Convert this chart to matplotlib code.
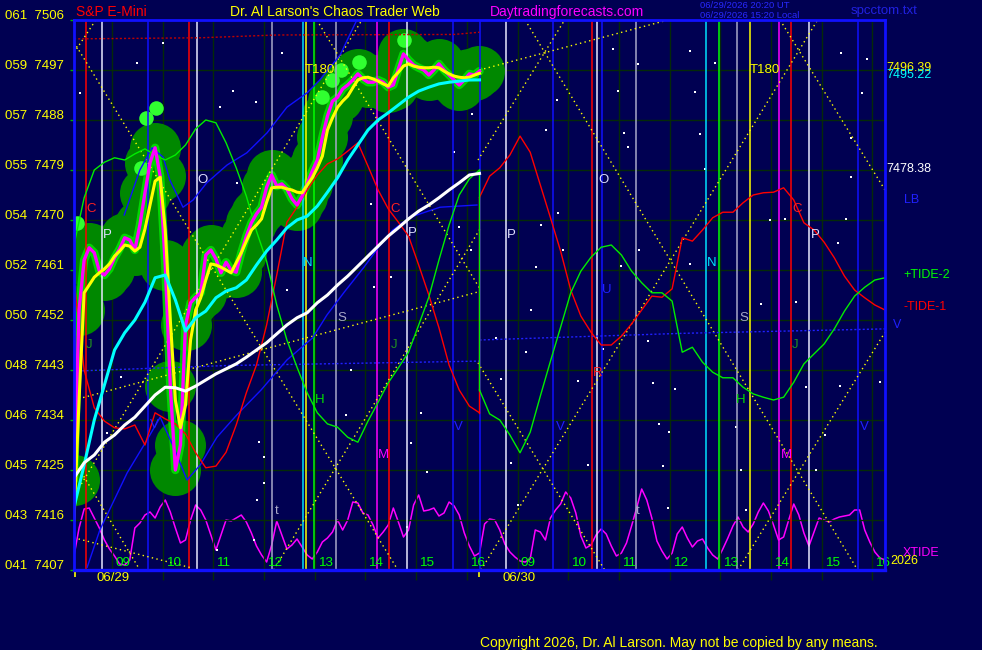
import numpy as np
import matplotlib
matplotlib.use("Agg")
import matplotlib.pyplot as plt

plt.rcParams['font.family'] = ['Liberation Sans', 'DejaVu Sans']

NAVY = '#000052'
GRID = '#052a08'

# x axis: hours since 08:15 on 06/29; each session shown is 8 hours (08:15-16:15)
day_start = [0.0, 8.0]
day_names = ['06/29', '06/30']
hour_grid = [0.75 + i for i in range(8)] + [8.75 + i for i in range(8)]
hour_names = ['09', '10', '11', '12', '13', '14', '15', '16'] * 2

levels = [7407, 7416, 7425, 7434, 7443, 7452, 7461, 7470, 7479, 7488, 7497, 7506]
level_codes = ['041', '043', '045', '046', '048', '050', '052', '054', '055', '057', '059', '061']

# price (magenta) and its fast average (yellow), every 0.1 h on 06/29
t_fast = np.arange(81) * 0.1
price = [7423.2, 7453.8, 7462.8, 7465.0, 7464.1, 7460.8, 7460.1, 7461.2, 7463.2, 7464.8,
         7466.8, 7466.4, 7464.6, 7469.1, 7474.9, 7480.3, 7483.0, 7477.9, 7461.9, 7440.1,
         7425.0, 7429.5, 7451.1, 7455.1, 7456.1, 7456.9, 7463.7, 7464.6, 7463.0, 7460.5,
         7462.4, 7461.0, 7460.6, 7464.1, 7467.1, 7469.5, 7471.1, 7472.3, 7475.9, 7478.1,
         7476.1, 7476.5, 7475.6, 7473.8, 7472.7, 7474.3, 7476.5, 7478.8, 7480.8, 7484.9,
         7488.7, 7491.4, 7492.1, 7493.6, 7494.3, 7495.2, 7496.3, 7495.4, 7494.8, 7494.8,
         7495.2, 7494.8, 7493.9, 7494.3, 7497.2, 7499.9, 7498.8, 7497.9, 7497.4, 7497.0,
         7496.1, 7497.0, 7498.1, 7497.0, 7496.1, 7495.2, 7494.3, 7495.2, 7496.3, 7496.1,
         7496.8]
fast_avg = [7416.0, 7437.6, 7456.9, 7458.3, 7459.7, 7460.5, 7461.2, 7462.1, 7463.5, 7464.4,
            7465.5, 7465.3, 7464.4, 7465.1, 7468.4, 7472.7, 7477.0, 7477.7, 7468.2, 7452.0,
            7437.6, 7432.6, 7436.7, 7448.4, 7453.8, 7456.0, 7459.2, 7462.1, 7461.9, 7461.5,
            7461.0, 7460.5, 7462.3, 7464.1, 7466.2, 7468.2, 7469.1, 7470.2, 7473.2, 7475.8,
            7475.9, 7475.9, 7475.6, 7475.4, 7475.0, 7474.9, 7476.3, 7477.6, 7479.4, 7481.5,
            7486.2, 7488.4, 7490.3, 7491.4, 7492.3, 7493.8, 7495.2, 7495.6, 7495.7, 7495.4,
            7495.0, 7494.5, 7494.1, 7495.6, 7496.6, 7497.7, 7498.1, 7497.7, 7497.5, 7497.4,
            7497.4, 7497.5, 7497.4, 7496.8, 7496.3, 7495.9, 7495.7, 7495.6, 7495.7, 7496.1,
            7496.39]
# bar highs that stand out as bright dots
high_t = [0.06, 1.32, 1.42, 1.62, 4.89, 5.09, 5.27, 5.62, 6.51]
high_p = [7469.5, 7479.4, 7488.4, 7490.2, 7492.1, 7495.2, 7497.0, 7498.4, 7502.4]

# slower averages, every 0.2 h on 06/29
t_slow = np.arange(41) * 0.2
mid_avg = [7418.3, 7425.9, 7434.0, 7440.3, 7446.6, 7449.7, 7452.0, 7455.2, 7459.6, 7460.1,
           7455.6, 7450.0, 7452.4, 7453.6, 7456.0, 7457.2, 7457.8, 7459.2, 7461.9, 7464.4,
           7466.4, 7468.6, 7470.0, 7470.7, 7472.5, 7475.0, 7477.6, 7480.8, 7483.5, 7486.2,
           7488.0, 7489.3, 7490.7, 7492.1, 7493.2, 7493.9, 7494.5, 7494.8, 7495.0, 7495.2,
           7495.22]
slow_avg = [7423.6, 7426.3, 7427.7, 7430.0, 7431.3, 7433.1, 7434.5, 7436.5, 7438.5, 7439.9,
            7439.8, 7439.2, 7440.1, 7441.2, 7442.3, 7443.2, 7444.1, 7445.3, 7446.6, 7447.9,
            7449.5, 7451.1, 7452.4, 7453.3, 7455.1, 7456.5, 7458.3, 7459.9, 7461.7, 7463.5,
            7465.3, 7467.1, 7468.6, 7470.2, 7471.6, 7472.7, 7474.0, 7475.4, 7476.7, 7478.1,
            7478.38]

# tides, every 0.2 h, one list per session
tide1_d1 = [7459.2, 7443.0, 7436.2, 7433.8, 7432.6, 7432.4, 7433.1, 7429.5, 7435.3, 7434.2,
            7433.3, 7431.5, 7428.1, 7425.4, 7425.7, 7428.2, 7433.1, 7438.9, 7443.9, 7451.1,
            7460.1, 7469.6, 7472.3, 7475.4, 7478.1, 7480.1, 7481.0, 7482.4, 7483.9, 7479.7,
            7475.4, 7472.0, 7469.6, 7467.1, 7461.9, 7456.5, 7450.6, 7443.9, 7439.4, 7436.5,
            7435.3]
tide1_d2 = [7474.1, 7477.9, 7479.4, 7481.7, 7485.1, 7482.2, 7476.3, 7470.4, 7464.4, 7457.4,
            7452.7, 7449.8, 7447.5, 7447.5, 7449.1, 7451.3, 7453.8, 7456.3, 7456.1, 7457.6,
            7466.8, 7466.2, 7468.2, 7470.4, 7471.4, 7471.4, 7473.1, 7474.5, 7474.9, 7475.0,
            7475.8, 7473.6, 7469.5, 7468.2, 7466.0, 7463.2, 7459.9, 7457.4, 7456.0, 7454.7,
            7453.8]
tide2_d1 = [7465.5, 7474.0, 7479.0, 7480.4, 7481.2, 7480.8, 7481.9, 7482.8, 7481.7, 7480.8,
            7481.7, 7483.5, 7486.4, 7488.0, 7487.5, 7483.9, 7479.4, 7474.3, 7468.0, 7462.6,
            7454.7, 7448.4, 7443.5, 7438.9, 7435.3, 7433.3, 7432.7, 7430.9, 7430.0, 7433.8,
            7437.2, 7440.7, 7443.4, 7446.2, 7451.1, 7456.1, 7462.8, 7469.1, 7474.5, 7477.4,
            7479.0]
tide2_d2 = [7439.4, 7435.1, 7434.0, 7431.3, 7428.1, 7431.8, 7438.3, 7444.6, 7450.7, 7456.9,
            7460.8, 7463.3, 7465.1, 7465.5, 7463.7, 7460.8, 7458.7, 7456.9, 7456.9, 7455.4,
            7446.2, 7447.1, 7444.4, 7442.6, 7441.6, 7441.6, 7439.9, 7438.7, 7438.1, 7437.6,
            7438.1, 7440.8, 7444.1, 7445.9, 7447.7, 7450.4, 7453.6, 7456.3, 7457.9, 7459.2,
            7459.6]

# blue lines on 06/29
lb1_t = [0.99, 1.30, 1.54, 1.76, 1.89, 2.15, 2.35, 2.62, 3.02, 3.41, 3.81, 4.20, 4.60, 4.85, 5.25, 5.58]
lb1_p = [7470.9, 7479.0, 7483.0, 7481.3, 7477.2, 7472.3, 7473.6, 7476.7, 7479.9, 7482.1,
         7485.7, 7490.3, 7492.9, 7495.2, 7499.7, 7506.0]
lb2_t = [0.26, 0.51, 1.05, 1.44, 1.70, 1.99, 2.23, 2.49, 2.82, 3.21, 3.69, 4.20, 4.71, 4.99,
         5.33, 5.72, 6.04, 6.29, 6.63, 7.22, 7.95]
lb2_p = [7407.5, 7414.2, 7424.5, 7430.4, 7434.5, 7428.6, 7423.2, 7425.9, 7430.9, 7434.9,
         7439.4, 7444.8, 7448.8, 7452.9, 7457.0, 7461.5, 7465.5, 7468.2, 7470.5, 7472.3, 7472.7]
v_level_t = [[0.0, 3.0, 8.0], [8.0, 12.0, 16.0]]
v_level_p = [[7442.8, 7443.8, 7444.6], [7448.4, 7449.6, 7450.4]]
top_level_t = [0.0, 2.5, 4.0, 7.5, 8.0]
top_level_p = [7502.6, 7502.8, 7503.3, 7503.4, 7503.8]

# XTIDE oscillator, every 0.1 h over both sessions (own scale 0-550)
t_xt = np.arange(161) * 0.1
xtide = [14, 42, 61, 62, 52, 42, 30, 21, 14, 6, 5, 10, 42, 47, 55, 58, 52, 63, 70, 58,
         42, 27, 30, 50, 65, 60, 50, 35, 20, 35, 50, 49, 52, 55, 48, 37, 24, 15, 8, 25,
         49, 35, 21, 25, 31, 23, 15, 11, 18, 28, 32, 38, 50, 40, 50, 68, 67, 57, 55, 45,
         32, 38, 45, 62, 48, 33, 40, 65, 75, 59, 60, 62, 54, 57, 68, 64, 55, 37, 24, 14,
         17, 46, 51, 50, 40, 26, 18, 13, 9, 8, 11, 40, 38, 30, 52, 60, 66, 78, 72, 57,
         34, 22, 25, 35, 41, 36, 24, 14, 17, 27, 44, 62, 81, 70, 52, 29, 19, 11, 17, 36,
         43, 32, 23, 29, 31, 22, 15, 11, 21, 32, 44, 53, 43, 38, 46, 58, 67, 59, 45, 30,
         33, 50, 66, 55, 37, 24, 38, 52, 50, 48, 51, 53, 54, 55, 60, 60, 40, 28, 18, 12, 10]

# time lines
tl_t = [0.24, 0.55, 1.46, 2.27, 2.43, 3.91, 4.52, 4.58, 4.73, 5.17, 5.98, 6.21, 6.57, 7.48, 8.01,
        8.52, 9.45, 10.22, 10.32, 10.41, 11.08, 12.47, 12.72, 13.08, 13.33, 13.91, 14.14, 14.50, 15.46]
tl_c = ['#ff0000', '#e8e8ff', '#1010ff', '#ff0000', '#e8e8ff', '#a8a8c8', '#00e0ff', '#ffff00',
        '#00ff00', '#a8a8c8', '#ff00ff', '#ff0000', '#e8e8ff', '#1010ff', '#1010ff',
        '#e8e8ff', '#1010ff', '#ff0000', '#e8e8ff', '#1010ff', '#a8a8c8', '#00e0ff', '#00ff00',
        '#a8a8c8', '#ffff00', '#ff00ff', '#ff0000', '#e8e8ff', '#1010ff']

# dotted projection lines (t0, p0, t1, p1)
proj = [(0.0, 7502.0, 6.39, 7407.0), (0.0, 7500.1, 0.43, 7506.0), (4.79, 7506.0, 8.01, 7457.6),
        (0.0, 7420.3, 5.68, 7506.0), (0.0, 7426.8, 1.30, 7407.0), (0.0, 7412.8, 2.31, 7407.4),
        (3.94, 7407.0, 8.01, 7468.4), (0.0, 7437.6, 7.95, 7457.0), (8.0, 7497.0, 11.72, 7506.0),
        (8.90, 7506.0, 15.46, 7407.0), (7.97, 7480.8, 9.68, 7506.0), (8.03, 7407.0, 14.67, 7506.0),
        (7.97, 7444.3, 10.47, 7407.0), (13.93, 7506.0, 16.0, 7475.4), (13.10, 7407.0, 16.0, 7449.8)]

star_t = [1.24, 1.76, 3.14, 2.88, 3.59, 0.12, 4.10, 4.99, 5.86, 7.50, 7.85, 7.59, 7.83, 6.25, 4.20,
          5.92, 3.21, 0.93, 0.65, 3.65, 3.75, 3.75, 3.61, 5.46, 5.36, 6.65, 6.96, 6.84, 6.57, 2.82,
          3.55, 10.63, 11.12, 12.15, 12.64, 12.25, 10.73, 9.53, 9.31, 10.85, 10.93, 12.35, 12.45,
          15.13, 15.64, 15.54, 15.33, 15.33, 15.23, 13.73, 14.02, 15.07, 10.79, 11.14, 12.15, 9.65,
          9.21, 9.55, 9.11, 8.32, 8.42, 9.01, 8.92, 9.94, 10.43, 11.32, 11.42, 11.85, 11.54, 11.74,
          11.62, 10.14, 8.62, 13.55, 14.24, 14.44, 15.11, 14.81, 14.64, 13.06, 13.16, 13.25, 11.72,
          8.76, 15.90]
star_p = [7498.3, 7501.9, 7493.2, 7490.3, 7491.2, 7492.9, 7500.1, 7486.6, 7472.9, 7482.2, 7489.1,
          7468.7, 7464.6, 7459.7, 7457.4, 7457.9, 7476.7, 7441.7, 7431.7, 7430.0, 7427.3, 7422.7,
          7419.6, 7443.0, 7434.9, 7429.9, 7424.6, 7435.3, 7414.7, 7410.6, 7412.4, 7500.8, 7498.1,
          7500.4, 7498.3, 7493.0, 7493.2, 7491.6, 7486.2, 7485.7, 7483.1, 7485.5, 7479.2, 7500.1,
          7499.0, 7492.9, 7484.8, 7477.7, 7470.2, 7470.0, 7470.2, 7465.9, 7461.7, 7464.6, 7462.1,
          7464.6, 7469.1, 7471.3, 7461.5, 7448.8, 7441.4, 7453.8, 7446.2, 7441.0, 7446.8, 7448.2,
          7440.7, 7439.6, 7433.3, 7431.8, 7425.7, 7425.9, 7426.3, 7454.9, 7455.2, 7439.9, 7440.1,
          7431.3, 7425.0, 7432.7, 7425.0, 7417.8, 7418.2, 7418.7, 7440.8]

# letter markers (text, time, price, colour)
marks = [('C', 0.34, 7472.0, '#ff2020'), ('P', 0.65, 7467.3, '#e0e0ff'), ('O', 2.54, 7477.2, '#e0e0ff'),
         ('T180', 4.85, 7497.0, '#ffff00'), ('N', 4.62, 7462.3, '#00e0ff'), ('S', 5.29, 7452.4, '#a8a8c8'),
         ('J', 0.30, 7447.5, '#209020'), ('J', 6.31, 7447.5, '#209020'), ('H', 4.85, 7437.6, '#00e000'),
         ('M', 6.11, 7427.7, '#ff00ff'), ('C', 6.33, 7472.0, '#ff2020'), ('P', 6.67, 7467.7, '#e0e0ff'),
         ('t', 4.00, 7417.6, '#a8a8c8'), ('V', 1.58, 7433.1, '#2020ff'), ('V', 7.59, 7432.7, '#2020ff'),
         ('P', 8.62, 7467.3, '#e0e0ff'), ('O', 10.45, 7477.2, '#e0e0ff'), ('U', 10.51, 7457.4, '#2020ff'),
         ('N', 12.58, 7462.3, '#00e0ff'), ('S', 13.21, 7452.4, '#a8a8c8'), ('J', 14.22, 7447.5, '#209020'),
         ('H', 13.16, 7437.6, '#00e000'), ('M', 14.06, 7427.7, '#ff00ff'), ('C', 14.26, 7472.0, '#ff2020'),
         ('P', 14.62, 7467.3, '#e0e0ff'), ('T180', 13.63, 7497.0, '#ffff00'), ('t', 11.12, 7417.6, '#a8a8c8'),
         ('V', 9.59, 7432.7, '#2020ff'), ('V', 15.60, 7432.7, '#2020ff'), ('R', 10.34, 7442.5, '#ff2020')]

fig = plt.figure(figsize=(9.82, 6.5), dpi=100, facecolor=NAVY)
ax = fig.add_axes([74 / 982, 80 / 650, 811 / 982, 550 / 650])
axt = ax.twinx()
ax.set_zorder(2)
axt.set_zorder(1)
ax.patch.set_visible(False)
axt.axis('off')

ax.set_xlim(0, 16)
ax.set_ylim(7407, 7506)
axt.set_ylim(0, 550)

for p in levels:
    ax.axhline(p, color=GRID, lw=1, zorder=0.5)
for h in hour_grid:
    ax.axvline(h, color=GRID, lw=1, zorder=0.5)

axt.plot(t_xt, xtide, color='#ff00ff', lw=1.1)

ax.scatter(star_t, star_p, s=2.5, marker='s', color='white', linewidths=0, zorder=1)

for (t0, p0, t1, p1) in proj:
    ax.plot([t0, t1], [p0, p1], color='#ffff00', lw=1, ls=(0, (1, 2.4)), zorder=3.6)

# price blob
ax.scatter(t_fast, price, s=1350, color='#008800', linewidths=0, zorder=3)
ax.plot(t_fast, price, color='#00e600', lw=6, alpha=0.85, solid_capstyle='round', zorder=3.1)
ax.scatter(high_t, high_p, s=110, color='#30ff30', linewidths=0, zorder=3.2)

for h, c in zip(tl_t, tl_c):
    ax.axvline(h, color=c, lw=1.1, zorder=3.5)

ax.plot(top_level_t, top_level_p, color='#c00000', lw=1, ls=(0, (1.5, 1.5)), zorder=3.6)
for tt, pp in zip(v_level_t, v_level_p):
    ax.plot(tt, pp, color='#2020ff', lw=1, ls=(0, (1.5, 1.5)), zorder=3.6)
ax.plot(lb1_t, lb1_p, color='#1010ff', lw=1, zorder=3.6)
ax.plot(lb2_t, lb2_p, color='#1010ff', lw=1, zorder=3.6)

ax.plot(t_slow, tide1_d1, color='#ff0000', lw=1, zorder=3.7)
ax.plot(8.0 + t_slow, tide1_d2, color='#ff0000', lw=1, zorder=3.7)
ax.plot([8.0, 8.0], [tide1_d1[-1], tide1_d2[0]], color='#ff0000', lw=1, zorder=3.7)
ax.plot(t_slow, tide2_d1, color='#00ee00', lw=1, zorder=3.7)
ax.plot(8.0 + t_slow, tide2_d2, color='#00ee00', lw=1, zorder=3.7)
ax.plot([8.0, 8.0], [tide2_d1[-1], tide2_d2[0]], color='#00ee00', lw=1, zorder=3.7)

ax.plot(t_fast, price, color='#ff00ff', lw=2.4, zorder=4)
ax.plot(t_fast, fast_avg, color='#ffff00', lw=2.2, zorder=4.1)
ax.plot(t_slow, mid_avg, color='#00ffff', lw=2.2, zorder=5)
ax.plot(t_slow, slow_avg, color='white', lw=2.2, zorder=5)

for txt, h, p, c in marks:
    ax.text(h, p, txt, color=c, fontsize=9.5, ha='center', va='center', zorder=6)

for h, name in zip(hour_grid, hour_names):
    ax.text(h + 0.06, 7408.3, name, color='#00ff00', fontsize=9.7, ha='left', va='center', zorder=6)

for p, code in zip(levels, level_codes):
    ax.text(-0.012, p + 0.7, code + '  ' + str(p), transform=ax.get_yaxis_transform(),
            color='#ffff00', fontsize=9.5, ha='right', va='center')

for h, name in zip(day_start, day_names):
    ax.text(h + 0.78, -0.015, name, transform=ax.get_xaxis_transform(), color='#ffff00',
            fontsize=9.5, ha='center', va='center')

ax.set_xticks([0.02, 8.0])
ax.set_xticks(hour_grid, minor=True)
ax.set_yticks(levels)
ax.tick_params(axis='x', which='major', color='#ffff00', length=5, width=1.2, labelbottom=False)
ax.tick_params(axis='x', which='minor', color=GRID, length=7, width=1)
ax.tick_params(axis='y', color='#00b000', length=3, width=1, labelleft=False)
for s in ax.spines.values():
    s.set_color('#1010ff')
    s.set_linewidth(2)
    s.set_zorder(10)
ax.spines['bottom'].set_linewidth(2.4)


def ftext(px, py, s, color, size=10, ha='left'):
    fig.text(px / 982, 1 - py / 650, s, color=color, fontsize=size, ha=ha, va='center')


ftext(76, 12, 'S&P E-Mini', '#ff0000')
ftext(230, 12, "Dr. Al Larson's Chaos Trader Web", '#ffff00')
ftext(490, 12, 'Daytradingforecasts.com', '#ff00ff')
ftext(700, 6, '06/29/2026 20:20 UT', '#2828ff', size=6.8)
ftext(700, 16, '06/29/2026 15:20 Local', '#2828ff', size=6.8)
ftext(851, 11, 'spcctom.txt', '#2020e0', size=9.5)
ftext(886, 68, '7496.39', '#ffff00', size=9)
ftext(886, 75, '7495.22', '#00ffff', size=9)
ftext(886, 169, '7478.38', 'white', size=9)
ftext(904, 200, 'LB', '#2020ff', size=9)
ftext(903, 275, '+TIDE-2', '#00ff00', size=9)
ftext(903, 307, '-TIDE-1', '#ff0000', size=9)
ftext(893, 325, 'V', '#2020ff', size=9)
ftext(903, 553, 'XTIDE', '#ff00ff', size=9)
ftext(890, 561, '2026', '#ffff00', size=9)
ftext(480, 643, 'Copyright 2026, Dr. Al Larson. May not be copied by any means.', '#ffff00', size=10)

fig.savefig('out.png', dpi=100, facecolor=NAVY)
